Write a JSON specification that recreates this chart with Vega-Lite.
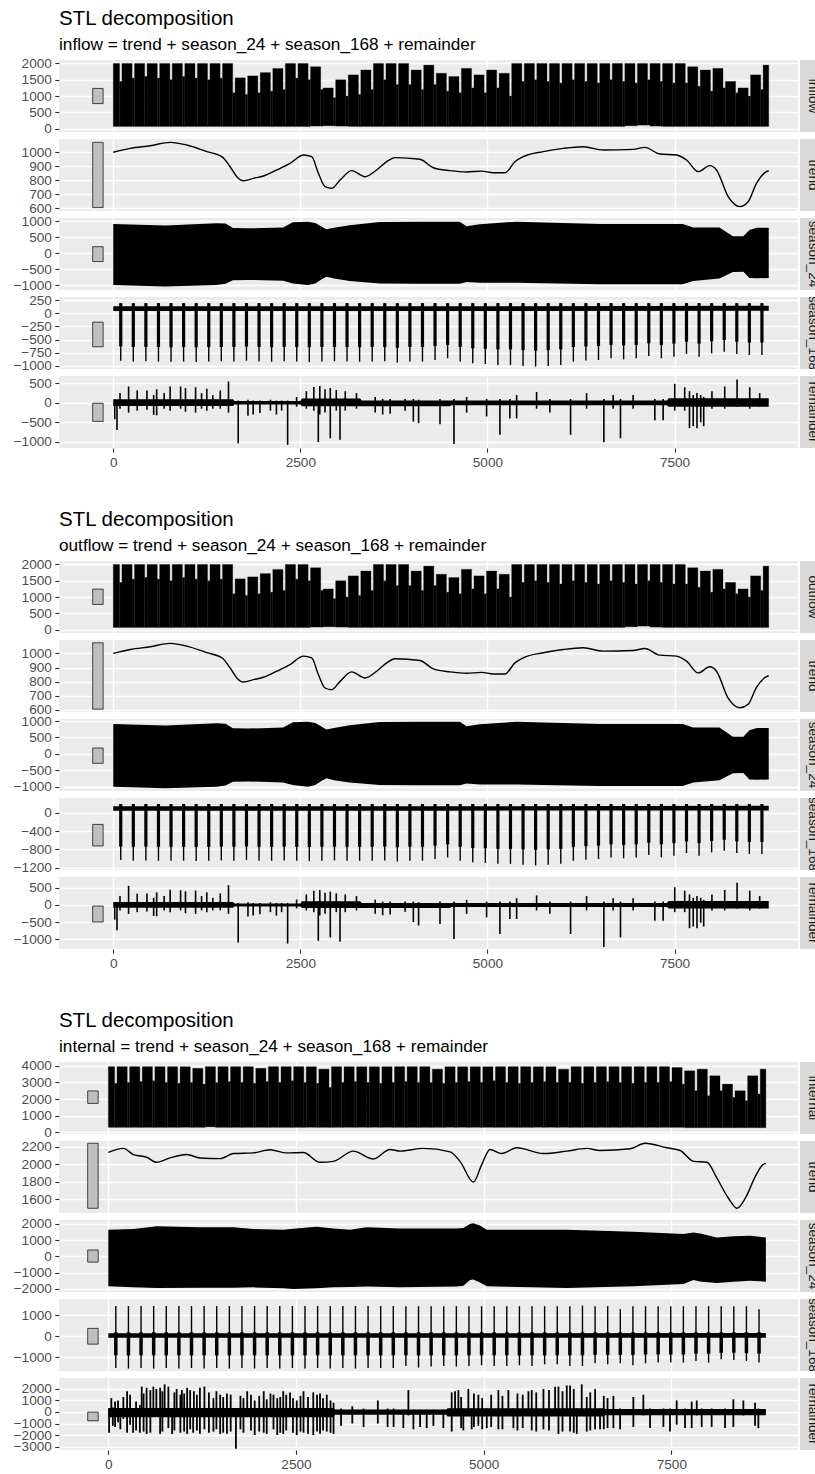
{
"$schema":"https://vega.github.io/schema/vega-lite/v6.json",
"background":"#FFFFFF",
"padding":{"left":13,"top":8,"right":0,"bottom":0},
"autosize":{"type":"pad"},
"config":{
 "font":"Liberation Sans",
 "numberFormat":"d",
 "view":{"fill":"#EBEBEB","stroke":null},
 "axis":{"domain":false,"grid":true,"gridColor":"#FFFFFF","gridWidth":1.4,"tickColor":"#333333","tickSize":4.25,"tickWidth":1.1,"labelColor":"#4D4D4D","labelFont":"Liberation Sans","labelFontSize":13.6,"labelPadding":3.4,"labelOverlap":false,"labelFlush":false},
 "title":{"anchor":"start","frame":"group","font":"Liberation Sans","fontSize":20.5,"fontWeight":"normal","color":"#000000","subtitleFont":"Liberation Sans","subtitleFontSize":17.2,"subtitleColor":"#000000","subtitlePadding":7,"offset":0.5}
},
"datasets":{
"blk":[
{"a":0,"b":84,"ih":2000,"xh":3950,"lo":70,"xl":300},
{"a":116,"b":252,"ih":2000,"xh":3950,"lo":70,"xl":300},
{"a":284,"b":420,"ih":2000,"xh":3950,"lo":70,"xl":300},
{"a":452,"b":588,"ih":2000,"xh":3950,"lo":70,"xl":300},
{"a":620,"b":756,"ih":2000,"xh":3950,"lo":70,"xl":300},
{"a":788,"b":924,"ih":2000,"xh":3950,"lo":70,"xl":300},
{"a":956,"b":1092,"ih":2000,"xh":3950,"lo":70,"xl":300},
{"a":1124,"b":1260,"ih":2000,"xh":3850,"lo":70,"xl":300},
{"a":1292,"b":1428,"ih":2000,"xh":3950,"lo":70,"xl":330},
{"a":1460,"b":1596,"ih":2000,"xh":3950,"lo":70,"xl":300},
{"a":1628,"b":1764,"ih":1560,"xh":3950,"lo":70,"xl":300},
{"a":1796,"b":1932,"ih":1620,"xh":3950,"lo":70,"xl":300},
{"a":1964,"b":2100,"ih":1720,"xh":3850,"lo":70,"xl":300},
{"a":2132,"b":2268,"ih":1850,"xh":3950,"lo":70,"xl":300},
{"a":2300,"b":2436,"ih":2000,"xh":3950,"lo":70,"xl":300},
{"a":2468,"b":2604,"ih":2000,"xh":3950,"lo":70,"xl":300},
{"a":2636,"b":2772,"ih":1900,"xh":3950,"lo":80,"xl":300},
{"a":2804,"b":2940,"ih":1250,"xh":3800,"lo":90,"xl":300},
{"a":2972,"b":3108,"ih":1500,"xh":3950,"lo":80,"xl":300},
{"a":3140,"b":3276,"ih":1650,"xh":3950,"lo":70,"xl":300},
{"a":3308,"b":3444,"ih":1800,"xh":3950,"lo":70,"xl":300},
{"a":3476,"b":3612,"ih":2000,"xh":3950,"lo":70,"xl":300},
{"a":3644,"b":3780,"ih":2000,"xh":3950,"lo":70,"xl":300},
{"a":3812,"b":3948,"ih":2000,"xh":3950,"lo":70,"xl":300},
{"a":3980,"b":4116,"ih":1800,"xh":3950,"lo":70,"xl":300},
{"a":4148,"b":4284,"ih":1950,"xh":3950,"lo":70,"xl":300},
{"a":4316,"b":4452,"ih":1700,"xh":3800,"lo":70,"xl":300},
{"a":4484,"b":4620,"ih":1600,"xh":3950,"lo":70,"xl":300},
{"a":4652,"b":4788,"ih":1850,"xh":3950,"lo":70,"xl":300},
{"a":4820,"b":4956,"ih":1650,"xh":3950,"lo":70,"xl":300},
{"a":4988,"b":5124,"ih":1800,"xh":3950,"lo":70,"xl":300},
{"a":5156,"b":5292,"ih":1700,"xh":3950,"lo":70,"xl":300},
{"a":5324,"b":5460,"ih":2000,"xh":3950,"lo":70,"xl":300},
{"a":5492,"b":5628,"ih":2000,"xh":3950,"lo":70,"xl":300},
{"a":5660,"b":5796,"ih":2000,"xh":3950,"lo":70,"xl":300},
{"a":5828,"b":5964,"ih":2000,"xh":3950,"lo":70,"xl":300},
{"a":5996,"b":6132,"ih":2000,"xh":3800,"lo":70,"xl":300},
{"a":6164,"b":6300,"ih":2000,"xh":3950,"lo":70,"xl":300},
{"a":6332,"b":6468,"ih":2000,"xh":3950,"lo":70,"xl":300},
{"a":6500,"b":6636,"ih":2000,"xh":3950,"lo":70,"xl":300},
{"a":6668,"b":6804,"ih":2000,"xh":3950,"lo":70,"xl":300},
{"a":6836,"b":6972,"ih":2000,"xh":3950,"lo":90,"xl":300},
{"a":7004,"b":7140,"ih":2000,"xh":3950,"lo":110,"xl":300},
{"a":7172,"b":7308,"ih":2000,"xh":3950,"lo":80,"xl":300},
{"a":7340,"b":7476,"ih":2000,"xh":3950,"lo":70,"xl":300},
{"a":7508,"b":7644,"ih":2000,"xh":3900,"lo":70,"xl":300},
{"a":7676,"b":7812,"ih":1900,"xh":3700,"lo":70,"xl":280},
{"a":7844,"b":7980,"ih":1800,"xh":3800,"lo":70,"xl":280},
{"a":8012,"b":8148,"ih":1850,"xh":3400,"lo":70,"xl":280},
{"a":8180,"b":8316,"ih":1450,"xh":2900,"lo":70,"xl":280},
{"a":8348,"b":8484,"ih":1250,"xh":2500,"lo":70,"xl":280},
{"a":8516,"b":8652,"ih":1650,"xh":3400,"lo":70,"xl":280},
{"a":8684,"b":8759,"ih":1950,"xh":3800,"lo":70,"xl":280}
],
"nt":[
{"c":100,"p":84,"q":116,"iw":1450,"xw":2950,"lo":70,"xl":300,"ip":190,"im":-900,"it":-630,"om":-1030,"ot":-740,"xp":1430,"xm":-1500,"xt":-900},
{"c":268,"p":252,"q":284,"iw":1550,"xw":3000,"lo":70,"xl":300,"ip":190,"im":-917,"it":-640,"om":-1047,"ot":-745,"xp":1430,"xm":-1525,"xt":-900},
{"c":436,"p":420,"q":452,"iw":1600,"xw":3050,"lo":70,"xl":300,"ip":190,"im":-910,"it":-640,"om":-1040,"ot":-740,"xp":1430,"xm":-1500,"xt":-900},
{"c":604,"p":588,"q":620,"iw":1550,"xw":3100,"lo":70,"xl":300,"ip":190,"im":-917,"it":-640,"om":-1047,"ot":-745,"xp":1430,"xm":-1525,"xt":-900},
{"c":772,"p":756,"q":788,"iw":1500,"xw":3000,"lo":70,"xl":300,"ip":190,"im":-920,"it":-645,"om":-1050,"ot":-745,"xp":1430,"xm":-1500,"xt":-900},
{"c":940,"p":924,"q":956,"iw":1600,"xw":2950,"lo":70,"xl":300,"ip":190,"im":-917,"it":-640,"om":-1047,"ot":-745,"xp":1430,"xm":-1525,"xt":-900},
{"c":1108,"p":1092,"q":1124,"iw":1550,"xw":3000,"lo":70,"xl":300,"ip":190,"im":-925,"it":-645,"om":-1055,"ot":-750,"xp":1430,"xm":-1500,"xt":-900},
{"c":1276,"p":1260,"q":1292,"iw":1500,"xw":2900,"lo":70,"xl":300,"ip":190,"im":-917,"it":-640,"om":-1047,"ot":-745,"xp":1430,"xm":-1525,"xt":-900},
{"c":1444,"p":1428,"q":1460,"iw":1550,"xw":3000,"lo":70,"xl":300,"ip":190,"im":-910,"it":-640,"om":-1040,"ot":-740,"xp":1430,"xm":-1500,"xt":-900},
{"c":1612,"p":1596,"q":1628,"iw":1100,"xw":3050,"lo":70,"xl":300,"ip":190,"im":-917,"it":-640,"om":-1047,"ot":-745,"xp":1430,"xm":-1525,"xt":-900},
{"c":1780,"p":1764,"q":1796,"iw":1050,"xw":3000,"lo":70,"xl":300,"ip":190,"im":-900,"it":-630,"om":-1030,"ot":-735,"xp":1430,"xm":-1500,"xt":-900},
{"c":1948,"p":1932,"q":1964,"iw":1100,"xw":2950,"lo":70,"xl":300,"ip":190,"im":-917,"it":-640,"om":-1047,"ot":-745,"xp":1430,"xm":-1525,"xt":-900},
{"c":2116,"p":2100,"q":2132,"iw":1150,"xw":3050,"lo":70,"xl":300,"ip":190,"im":-920,"it":-645,"om":-1050,"ot":-745,"xp":1430,"xm":-1500,"xt":-900},
{"c":2284,"p":2268,"q":2300,"iw":1200,"xw":3000,"lo":70,"xl":300,"ip":190,"im":-910,"it":-640,"om":-1040,"ot":-740,"xp":1430,"xm":-1525,"xt":-900},
{"c":2452,"p":2436,"q":2468,"iw":1550,"xw":3100,"lo":70,"xl":300,"ip":190,"im":-917,"it":-640,"om":-1047,"ot":-745,"xp":1430,"xm":-1500,"xt":-900},
{"c":2620,"p":2604,"q":2636,"iw":1500,"xw":3000,"lo":70,"xl":300,"ip":190,"im":-925,"it":-645,"om":-1055,"ot":-750,"xp":1430,"xm":-1525,"xt":-900},
{"c":2788,"p":2772,"q":2804,"iw":1200,"xw":2950,"lo":80,"xl":300,"ip":190,"im":-917,"it":-640,"om":-1047,"ot":-745,"xp":1430,"xm":-1500,"xt":-900},
{"c":2956,"p":2940,"q":2972,"iw":950,"xw":2700,"lo":90,"xl":300,"ip":190,"im":-910,"it":-640,"om":-1040,"ot":-740,"xp":1430,"xm":-1525,"xt":-900},
{"c":3124,"p":3108,"q":3140,"iw":1000,"xw":3000,"lo":80,"xl":300,"ip":190,"im":-917,"it":-640,"om":-1047,"ot":-745,"xp":1430,"xm":-1500,"xt":-900},
{"c":3292,"p":3276,"q":3308,"iw":1050,"xw":3050,"lo":70,"xl":300,"ip":190,"im":-920,"it":-645,"om":-1050,"ot":-745,"xp":1430,"xm":-1525,"xt":-900},
{"c":3460,"p":3444,"q":3476,"iw":1200,"xw":3000,"lo":70,"xl":300,"ip":190,"im":-917,"it":-640,"om":-1047,"ot":-745,"xp":1430,"xm":-1500,"xt":-900},
{"c":3628,"p":3612,"q":3644,"iw":1500,"xw":2950,"lo":70,"xl":300,"ip":190,"im":-910,"it":-640,"om":-1040,"ot":-740,"xp":1430,"xm":-1500,"xt":-900},
{"c":3796,"p":3780,"q":3812,"iw":1350,"xw":3000,"lo":70,"xl":300,"ip":190,"im":-935,"it":-655,"om":-1065,"ot":-755,"xp":1430,"xm":-1500,"xt":-900},
{"c":3964,"p":3948,"q":3980,"iw":1350,"xw":3050,"lo":70,"xl":300,"ip":190,"im":-917,"it":-640,"om":-1047,"ot":-745,"xp":1420,"xm":-1399,"xt":-900},
{"c":4132,"p":4116,"q":4148,"iw":1200,"xw":3000,"lo":70,"xl":300,"ip":190,"im":-917,"it":-640,"om":-1047,"ot":-745,"xp":1420,"xm":-1478,"xt":-900},
{"c":4300,"p":4284,"q":4316,"iw":1350,"xw":3000,"lo":70,"xl":300,"ip":190,"im":-886,"it":-620,"om":-1010,"ot":-720,"xp":1420,"xm":-1431,"xt":-900},
{"c":4468,"p":4452,"q":4484,"iw":1150,"xw":2950,"lo":70,"xl":300,"ip":190,"im":-854,"it":-600,"om":-975,"ot":-690,"xp":1420,"xm":-1399,"xt":-900},
{"c":4636,"p":4620,"q":4652,"iw":1100,"xw":3000,"lo":70,"xl":300,"ip":190,"im":-917,"it":-640,"om":-1047,"ot":-745,"xp":1420,"xm":-1431,"xt":-900},
{"c":4804,"p":4788,"q":4820,"iw":1250,"xw":3050,"lo":70,"xl":300,"ip":190,"im":-949,"it":-665,"om":-1080,"ot":-770,"xp":1420,"xm":-1399,"xt":-900},
{"c":4972,"p":4956,"q":4988,"iw":1100,"xw":3000,"lo":70,"xl":300,"ip":190,"im":-961,"it":-675,"om":-1095,"ot":-780,"xp":1420,"xm":-1368,"xt":-900},
{"c":5140,"p":5124,"q":5156,"iw":1250,"xw":3100,"lo":70,"xl":300,"ip":190,"im":-980,"it":-685,"om":-1115,"ot":-790,"xp":1420,"xm":-1399,"xt":-900},
{"c":5308,"p":5292,"q":5324,"iw":1000,"xw":3000,"lo":70,"xl":300,"ip":190,"im":-980,"it":-685,"om":-1115,"ot":-790,"xp":1420,"xm":-1399,"xt":-900},
{"c":5476,"p":5460,"q":5492,"iw":1450,"xw":2950,"lo":70,"xl":300,"ip":190,"im":-999,"it":-700,"om":-1135,"ot":-800,"xp":1420,"xm":-1368,"xt":-900},
{"c":5644,"p":5628,"q":5660,"iw":1500,"xw":3000,"lo":70,"xl":300,"ip":190,"im":-1012,"it":-710,"om":-1150,"ot":-810,"xp":1420,"xm":-1399,"xt":-900},
{"c":5812,"p":5796,"q":5828,"iw":1450,"xw":3050,"lo":70,"xl":300,"ip":190,"im":-999,"it":-700,"om":-1135,"ot":-800,"xp":1420,"xm":-1321,"xt":-900},
{"c":5980,"p":5964,"q":5996,"iw":1400,"xw":3000,"lo":70,"xl":300,"ip":190,"im":-980,"it":-685,"om":-1115,"ot":-790,"xp":1420,"xm":-1321,"xt":-900},
{"c":6148,"p":6132,"q":6164,"iw":1500,"xw":3000,"lo":70,"xl":300,"ip":190,"im":-917,"it":-640,"om":-1047,"ot":-745,"xp":1420,"xm":-1399,"xt":-900},
{"c":6316,"p":6300,"q":6332,"iw":1450,"xw":2950,"lo":70,"xl":300,"ip":190,"im":-898,"it":-630,"om":-1025,"ot":-730,"xp":1450,"xm":-1399,"xt":-900},
{"c":6484,"p":6468,"q":6500,"iw":1400,"xw":3000,"lo":70,"xl":300,"ip":190,"im":-886,"it":-620,"om":-1010,"ot":-720,"xp":1420,"xm":-1274,"xt":-880},
{"c":6652,"p":6636,"q":6668,"iw":1500,"xw":3050,"lo":70,"xl":300,"ip":190,"im":-854,"it":-600,"om":-975,"ot":-690,"xp":1420,"xm":-1321,"xt":-880},
{"c":6820,"p":6804,"q":6836,"iw":1450,"xw":3000,"lo":70,"xl":300,"ip":190,"im":-873,"it":-610,"om":-995,"ot":-705,"xp":1280,"xm":-1274,"xt":-880},
{"c":6988,"p":6972,"q":7004,"iw":1400,"xw":2950,"lo":90,"xl":300,"ip":190,"im":-854,"it":-600,"om":-975,"ot":-690,"xp":1420,"xm":-1368,"xt":-880},
{"c":7156,"p":7140,"q":7172,"iw":1500,"xw":3000,"lo":110,"xl":300,"ip":190,"im":-810,"it":-570,"om":-925,"ot":-655,"xp":1420,"xm":-1274,"xt":-860},
{"c":7324,"p":7308,"q":7340,"iw":1450,"xw":3000,"lo":80,"xl":300,"ip":190,"im":-854,"it":-600,"om":-975,"ot":-690,"xp":1420,"xm":-1242,"xt":-860},
{"c":7492,"p":7476,"q":7508,"iw":1400,"xw":3050,"lo":70,"xl":300,"ip":190,"im":-823,"it":-575,"om":-940,"ot":-665,"xp":1420,"xm":-1242,"xt":-860},
{"c":7660,"p":7644,"q":7676,"iw":1400,"xw":2900,"lo":70,"xl":300,"ip":190,"im":-772,"it":-540,"om":-880,"ot":-625,"xp":1420,"xm":-1242,"xt":-860},
{"c":7828,"p":7812,"q":7844,"iw":1300,"xw":2500,"lo":70,"xl":280,"ip":190,"im":-823,"it":-575,"om":-940,"ot":-665,"xp":1420,"xm":-1164,"xt":-820},
{"c":7996,"p":7980,"q":8012,"iw":1150,"xw":2200,"lo":70,"xl":280,"ip":190,"im":-760,"it":-530,"om":-865,"ot":-615,"xp":1420,"xm":-1242,"xt":-820},
{"c":8164,"p":8148,"q":8180,"iw":1250,"xw":2500,"lo":70,"xl":280,"ip":190,"im":-728,"it":-510,"om":-830,"ot":-590,"xp":1420,"xm":-1085,"xt":-780},
{"c":8332,"p":8316,"q":8348,"iw":1100,"xw":2100,"lo":70,"xl":280,"ip":190,"im":-772,"it":-540,"om":-880,"ot":-625,"xp":1420,"xm":-1117,"xt":-780},
{"c":8500,"p":8484,"q":8516,"iw":1000,"xw":1900,"lo":70,"xl":280,"ip":190,"im":-791,"it":-555,"om":-900,"ot":-640,"xp":1420,"xm":-1164,"xt":-800},
{"c":8668,"p":8652,"q":8684,"iw":1200,"xw":2300,"lo":70,"xl":280,"ip":190,"im":-791,"it":-555,"om":-900,"ot":-640,"xp":1280,"xm":-1242,"xt":-820}
],
"tri":[
{"t":0,"i":1000,"o":1000},{"t":227,"i":1028,"o":1028},{"t":494,"i":1047,"o":1047},{"t":761,"i":1071,"o":1071},{"t":983,"i":1052,"o":1052},{"t":1250,"i":1005,"o":1005},{"t":1451,"i":969,"o":969},{"t":1562,"i":897,"o":897},{"t":1651,"i":826,"o":826},{"t":1740,"i":797,"o":797},{"t":1874,"i":814,"o":814},{"t":2007,"i":831,"o":831},{"t":2185,"i":874,"o":874},{"t":2363,"i":921,"o":921},{"t":2541,"i":981,"o":981},{"t":2652,"i":969,"o":969},{"t":2741,"i":850,"o":850},{"t":2830,"i":755,"o":755},{"t":2919,"i":743,"o":743},{"t":3031,"i":802,"o":802},{"t":3186,"i":869,"o":869},{"t":3364,"i":826,"o":826},{"t":3520,"i":874,"o":874},{"t":3654,"i":933,"o":933},{"t":3765,"i":962,"o":962},{"t":4099,"i":950,"o":950},{"t":4277,"i":890,"o":890},{"t":4499,"i":869,"o":869},{"t":4722,"i":859,"o":859},{"t":4922,"i":866,"o":866},{"t":5078,"i":854,"o":854},{"t":5234,"i":854,"o":854},{"t":5367,"i":933,"o":933},{"t":5479,"i":969,"o":969},{"t":5746,"i":1005,"o":1005},{"t":6013,"i":1028,"o":1028},{"t":6280,"i":1040,"o":1040},{"t":6547,"i":1016,"o":1016},{"t":6947,"i":1021,"o":1021},{"t":7103,"i":1035,"o":1035},{"t":7303,"i":988,"o":988},{"t":7526,"i":981,"o":981},{"t":7660,"i":945,"o":945},{"t":7816,"i":862,"o":862},{"t":7972,"i":905,"o":905},{"t":8061,"i":874,"o":874},{"t":8217,"i":683,"o":683},{"t":8373,"i":612,"o":615},{"t":8484,"i":647,"o":640},{"t":8595,"i":778,"o":760},{"t":8728,"i":862,"o":835},{"t":8759,"i":868,"o":842}
],
"trx":[
{"t":0,"v":2135},{"t":200,"v":2182},{"t":333,"v":2111},{"t":511,"v":2080},{"t":644,"v":2022},{"t":821,"v":2072},{"t":1044,"v":2111},{"t":1221,"v":2072},{"t":1488,"v":2064},{"t":1665,"v":2122},{"t":1932,"v":2130},{"t":2154,"v":2165},{"t":2376,"v":2130},{"t":2598,"v":2134},{"t":2820,"v":2022},{"t":2997,"v":2033},{"t":3264,"v":2150},{"t":3530,"v":2060},{"t":3752,"v":2169},{"t":3886,"v":2150},{"t":4197,"v":2181},{"t":4552,"v":2142},{"t":4685,"v":2033},{"t":4863,"v":1795},{"t":4974,"v":1995},{"t":5085,"v":2169},{"t":5241,"v":2122},{"t":5441,"v":2188},{"t":5796,"v":2122},{"t":6107,"v":2150},{"t":6374,"v":2181},{"t":6551,"v":2157},{"t":6951,"v":2177},{"t":7151,"v":2240},{"t":7440,"v":2188},{"t":7618,"v":2157},{"t":7796,"v":2033},{"t":7974,"v":2022},{"t":8107,"v":1840},{"t":8263,"v":1607},{"t":8374,"v":1495},{"t":8507,"v":1646},{"t":8596,"v":1820},{"t":8720,"v":1995},{"t":8759,"v":2010}
],
"s24":[
{"t":0,"u":910,"d":-1000},{"t":700,"u":860,"d":-1050},{"t":1380,"u":930,"d":-1000},{"t":1500,"u":920,"d":-960},{"t":1600,"u":780,"d":-850},{"t":1800,"u":770,"d":-840},{"t":2270,"u":800,"d":-870},{"t":2400,"u":960,"d":-950},{"t":2600,"u":980,"d":-1000},{"t":2700,"u":940,"d":-950},{"t":2780,"u":830,"d":-830},{"t":2850,"u":740,"d":-740},{"t":2950,"u":790,"d":-800},{"t":3160,"u":870,"d":-875},{"t":3560,"u":970,"d":-950},{"t":4100,"u":980,"d":-958},{"t":4630,"u":980,"d":-958},{"t":4720,"u":840,"d":-906},{"t":4900,"u":900,"d":-930},{"t":5390,"u":980,"d":-930},{"t":6500,"u":910,"d":-979},{"t":7610,"u":910,"d":-979},{"t":7750,"u":800,"d":-875},{"t":8100,"u":800,"d":-800},{"t":8280,"u":520,"d":-590},{"t":8420,"u":520,"d":-583},{"t":8500,"u":720,"d":-780},{"t":8600,"u":790,"d":-790},{"t":8759,"u":790,"d":-780}
],
"s24x":[
{"t":0,"u":1650,"d":-1835},{"t":333,"u":1690,"d":-1900},{"t":644,"u":1855,"d":-1938},{"t":1221,"u":1800,"d":-1920},{"t":1665,"u":1800,"d":-1918},{"t":1932,"u":1690,"d":-1900},{"t":2331,"u":1650,"d":-1950},{"t":2464,"u":1700,"d":-2000},{"t":2775,"u":1835,"d":-1950},{"t":2997,"u":1730,"d":-1897},{"t":3219,"u":1650,"d":-1870},{"t":3441,"u":1800,"d":-1850},{"t":3886,"u":1730,"d":-1897},{"t":4640,"u":1730,"d":-1850},{"t":4729,"u":1750,"d":-1795},{"t":4818,"u":1995,"d":-1446},{"t":4862,"u":2040,"d":-1420},{"t":4950,"u":1900,"d":-1600},{"t":5041,"u":1650,"d":-1835},{"t":6107,"u":1650,"d":-1938},{"t":6994,"u":1520,"d":-1835},{"t":7660,"u":1380,"d":-1692},{"t":7793,"u":1480,"d":-1446},{"t":7900,"u":1400,"d":-1550},{"t":8104,"u":1170,"d":-1630},{"t":8330,"u":1250,"d":-1550},{"t":8548,"u":1270,"d":-1487},{"t":8759,"u":1170,"d":-1548}
],
"sb":[
{"t":0,"ia":40,"ib":130,"oa":45,"ob":140,"xa":-70,"xb":140},{"t":4400,"ia":40,"ib":130,"oa":45,"ob":140,"xa":-70,"xb":140},{"t":8759,"ia":45,"ib":140,"oa":50,"ob":150,"xa":-70,"xb":150}
],
"rb":[
{"t":0,"il":-80,"ih":90,"xl":-450,"xh":350},{"t":1600,"il":-80,"ih":90,"xl":-450,"xh":350},{"t":1620,"il":-45,"ih":45,"xl":-450,"xh":350},{"t":2500,"il":-45,"ih":45,"xl":-450,"xh":350},{"t":2520,"il":-90,"ih":110,"xl":-450,"xh":350},{"t":3000,"il":-90,"ih":110,"xl":-450,"xh":350},{"t":3020,"il":-90,"ih":110,"xl":-250,"xh":220},{"t":3300,"il":-90,"ih":110,"xl":-250,"xh":220},{"t":3320,"il":-90,"ih":60,"xl":-250,"xh":220},{"t":4500,"il":-90,"ih":60,"xl":-250,"xh":220},{"t":4520,"il":-60,"ih":60,"xl":-400,"xh":320},{"t":6600,"il":-60,"ih":60,"xl":-400,"xh":320},{"t":6620,"il":-60,"ih":60,"xl":-280,"xh":250},{"t":7400,"il":-60,"ih":60,"xl":-280,"xh":250},{"t":7420,"il":-100,"ih":120,"xl":-280,"xh":250},{"t":8759,"il":-100,"ih":120,"xl":-280,"xh":250}
],
"rio":[
{"t":20,"il":-420,"ih":80,"ol":-430,"oh":80},{"t":50,"il":-700,"ih":50,"ol":-740,"oh":60},{"t":90,"il":-150,"ih":250,"ol":-160,"oh":260},{"t":205,"il":-250,"ih":420,"ol":-260,"oh":560},{"t":320,"il":-200,"ih":320,"ol":-210,"oh":330},{"t":450,"il":-180,"ih":320,"ol":-190,"oh":340},{"t":540,"il":-310,"ih":200,"ol":-320,"oh":210},{"t":580,"il":-320,"ih":350,"ol":-330,"oh":370},{"t":680,"il":-150,"ih":250,"ol":-160,"oh":260},{"t":760,"il":-200,"ih":420,"ol":-210,"oh":450},{"t":900,"il":-150,"ih":420,"ol":-160,"oh":430},{"t":965,"il":-230,"ih":380,"ol":-240,"oh":400},{"t":1100,"il":-250,"ih":400,"ol":-260,"oh":420},{"t":1180,"il":-150,"ih":250,"ol":-160,"oh":260},{"t":1250,"il":-200,"ih":360,"ol":-210,"oh":370},{"t":1330,"il":-150,"ih":200,"ol":-160,"oh":210},{"t":1430,"il":-150,"ih":320,"ol":-160,"oh":340},{"t":1540,"il":-250,"ih":550,"ol":-260,"oh":580},{"t":1670,"il":-1040,"ih":60,"ol":-1100,"oh":60},{"t":1800,"il":-330,"ih":80,"ol":-340,"oh":80},{"t":1870,"il":-300,"ih":60,"ol":-310,"oh":60},{"t":1960,"il":-260,"ih":60,"ol":-270,"oh":60},{"t":2100,"il":-200,"ih":80,"ol":-210,"oh":80},{"t":2180,"il":-300,"ih":60,"ol":-310,"oh":60},{"t":2250,"il":-200,"ih":60,"ol":-210,"oh":60},{"t":2330,"il":-1080,"ih":60,"ol":-1130,"oh":60},{"t":2450,"il":-100,"ih":150,"ol":-100,"oh":160},{"t":2580,"il":-150,"ih":300,"ol":-160,"oh":310},{"t":2680,"il":-200,"ih":410,"ol":-210,"oh":420},{"t":2740,"il":-1010,"ih":100,"ol":-1050,"oh":100},{"t":2760,"il":-300,"ih":430,"ol":-310,"oh":440},{"t":2830,"il":-250,"ih":350,"ol":-260,"oh":360},{"t":2900,"il":-910,"ih":380,"ol":-950,"oh":390},{"t":2980,"il":-200,"ih":330,"ol":-210,"oh":340},{"t":3030,"il":-950,"ih":100,"ol":-1080,"oh":100},{"t":3100,"il":-200,"ih":300,"ol":-210,"oh":310},{"t":3250,"il":-150,"ih":250,"ol":-160,"oh":260},{"t":3500,"il":-250,"ih":150,"ol":-260,"oh":150},{"t":3600,"il":-300,"ih":100,"ol":-300,"oh":100},{"t":3700,"il":-280,"ih":100,"ol":-280,"oh":100},{"t":3900,"il":-200,"ih":100,"ol":-200,"oh":100},{"t":4010,"il":-480,"ih":100,"ol":-500,"oh":100},{"t":4080,"il":-520,"ih":80,"ol":-600,"oh":80},{"t":4366,"il":-550,"ih":100,"ol":-560,"oh":100},{"t":4553,"il":-1060,"ih":100,"ol":-1000,"oh":100},{"t":4722,"il":-250,"ih":150,"ol":-260,"oh":150},{"t":4989,"il":-350,"ih":100,"ol":-360,"oh":100},{"t":5167,"il":-820,"ih":100,"ol":-850,"oh":100},{"t":5300,"il":-400,"ih":100,"ol":-410,"oh":100},{"t":5390,"il":-400,"ih":200,"ol":-410,"oh":200},{"t":5657,"il":-150,"ih":280,"ol":-160,"oh":280},{"t":5834,"il":-250,"ih":100,"ol":-260,"oh":100},{"t":6111,"il":-820,"ih":100,"ol":-850,"oh":100},{"t":6325,"il":-150,"ih":250,"ol":-160,"oh":260},{"t":6556,"il":-1010,"ih":100,"ol":-1230,"oh":100},{"t":6680,"il":-150,"ih":200,"ol":-160,"oh":200},{"t":6778,"il":-910,"ih":100,"ol":-950,"oh":100},{"t":6947,"il":-150,"ih":200,"ol":-160,"oh":200},{"t":7237,"il":-450,"ih":100,"ol":-460,"oh":100},{"t":7348,"il":-450,"ih":100,"ol":-460,"oh":100},{"t":7503,"il":-200,"ih":490,"ol":-210,"oh":520},{"t":7636,"il":-200,"ih":400,"ol":-210,"oh":420},{"t":7700,"il":-650,"ih":300,"ol":-680,"oh":310},{"t":7750,"il":-600,"ih":200,"ol":-630,"oh":210},{"t":7800,"il":-650,"ih":250,"ol":-680,"oh":260},{"t":7850,"il":-500,"ih":200,"ol":-520,"oh":210},{"t":7890,"il":-600,"ih":150,"ol":-630,"oh":150},{"t":8000,"il":-150,"ih":300,"ol":-160,"oh":310},{"t":8171,"il":-150,"ih":420,"ol":-160,"oh":440},{"t":8336,"il":-100,"ih":600,"ol":-110,"oh":650},{"t":8505,"il":-150,"ih":400,"ol":-160,"oh":420},{"t":8638,"il":-100,"ih":250,"ol":-110,"oh":260}
],
"rx":[
{"t":10,"lo":-1800,"hi":300},{"t":40,"lo":-300,"hi":1200},{"t":60,"lo":-1200,"hi":400},{"t":90,"lo":-1300,"hi":900},{"t":130,"lo":-900,"hi":1000},{"t":160,"lo":-1500,"hi":300},{"t":200,"lo":-600,"hi":1300},{"t":250,"lo":-1800,"hi":1800},{"t":290,"lo":-1100,"hi":1500},{"t":330,"lo":-1800,"hi":300},{"t":370,"lo":-1600,"hi":900},{"t":420,"lo":-1800,"hi":600},{"t":445,"lo":-300,"hi":2200},{"t":470,"lo":-1700,"hi":1600},{"t":510,"lo":-1900,"hi":2100},{"t":560,"lo":-1800,"hi":1900},{"t":600,"lo":-300,"hi":2200},{"t":640,"lo":-400,"hi":2000},{"t":690,"lo":-1900,"hi":2100},{"t":720,"lo":-1700,"hi":1800},{"t":750,"lo":-300,"hi":2400},{"t":800,"lo":-1400,"hi":2200},{"t":850,"lo":-1900,"hi":300},{"t":880,"lo":-1600,"hi":1700},{"t":910,"lo":-300,"hi":2000},{"t":960,"lo":-1800,"hi":1500},{"t":980,"lo":-300,"hi":1900},{"t":1010,"lo":-1700,"hi":1600},{"t":1050,"lo":-1900,"hi":2100},{"t":1090,"lo":-1500,"hi":1900},{"t":1130,"lo":-1800,"hi":300},{"t":1140,"lo":-300,"hi":1800},{"t":1180,"lo":-1600,"hi":1500},{"t":1220,"lo":-1900,"hi":2100},{"t":1280,"lo":-1500,"hi":2200},{"t":1340,"lo":-1800,"hi":1700},{"t":1400,"lo":-1700,"hi":1200},{"t":1440,"lo":-1500,"hi":1800},{"t":1490,"lo":-1900,"hi":1500},{"t":1530,"lo":-1800,"hi":1300},{"t":1580,"lo":-1900,"hi":1600},{"t":1630,"lo":-1700,"hi":1500},{"t":1700,"lo":-3200,"hi":300},{"t":1760,"lo":-1500,"hi":1400},{"t":1800,"lo":-1800,"hi":1200},{"t":1850,"lo":-300,"hi":1800},{"t":1900,"lo":-1600,"hi":1500},{"t":1950,"lo":-2000,"hi":1000},{"t":2010,"lo":-1700,"hi":1400},{"t":2070,"lo":-1800,"hi":1800},{"t":2110,"lo":-1900,"hi":1100},{"t":2160,"lo":-300,"hi":1600},{"t":2200,"lo":-1500,"hi":1500},{"t":2250,"lo":-2000,"hi":1200},{"t":2290,"lo":-1800,"hi":1300},{"t":2330,"lo":-1900,"hi":1800},{"t":2370,"lo":-1600,"hi":1500},{"t":2420,"lo":-300,"hi":1700},{"t":2460,"lo":-1800,"hi":1200},{"t":2510,"lo":-2000,"hi":1000},{"t":2560,"lo":-1700,"hi":1400},{"t":2600,"lo":-1800,"hi":1800},{"t":2660,"lo":-1900,"hi":1300},{"t":2730,"lo":-2000,"hi":1700},{"t":2780,"lo":-1700,"hi":1500},{"t":2820,"lo":-1900,"hi":1600},{"t":2860,"lo":-1600,"hi":1200},{"t":2910,"lo":-1700,"hi":1500},{"t":2960,"lo":-1800,"hi":1000},{"t":3000,"lo":-1900,"hi":800},{"t":3100,"lo":-1200,"hi":300},{"t":3250,"lo":-1000,"hi":500},{"t":3400,"lo":-1300,"hi":300},{"t":3590,"lo":-1000,"hi":1000},{"t":3720,"lo":-1300,"hi":300},{"t":3800,"lo":-1300,"hi":300},{"t":3930,"lo":-1400,"hi":200},{"t":3997,"lo":-300,"hi":1900},{"t":4064,"lo":-1500,"hi":200},{"t":4153,"lo":-1300,"hi":200},{"t":4241,"lo":-1400,"hi":200},{"t":4330,"lo":-1200,"hi":200},{"t":4463,"lo":-1400,"hi":200},{"t":4574,"lo":-1700,"hi":1700},{"t":4619,"lo":-300,"hi":1800},{"t":4663,"lo":-300,"hi":1900},{"t":4700,"lo":-1400,"hi":1300},{"t":4729,"lo":-1600,"hi":300},{"t":4796,"lo":-300,"hi":2000},{"t":4840,"lo":-1500,"hi":300},{"t":4870,"lo":-1300,"hi":1600},{"t":4929,"lo":-1200,"hi":1500},{"t":4980,"lo":-1500,"hi":1200},{"t":5041,"lo":-1400,"hi":300},{"t":5100,"lo":-1300,"hi":1500},{"t":5196,"lo":-1500,"hi":1900},{"t":5250,"lo":-1500,"hi":1400},{"t":5329,"lo":-300,"hi":1900},{"t":5396,"lo":-1400,"hi":300},{"t":5450,"lo":-1600,"hi":1600},{"t":5520,"lo":-1400,"hi":1500},{"t":5596,"lo":-300,"hi":1800},{"t":5640,"lo":-1600,"hi":1900},{"t":5700,"lo":-1700,"hi":1700},{"t":5796,"lo":-1500,"hi":2000},{"t":5870,"lo":-1600,"hi":1900},{"t":5951,"lo":-300,"hi":2200},{"t":5996,"lo":-1900,"hi":2200},{"t":6050,"lo":-1700,"hi":1800},{"t":6107,"lo":-300,"hi":2300},{"t":6151,"lo":-1700,"hi":2300},{"t":6200,"lo":-1800,"hi":2000},{"t":6240,"lo":-1900,"hi":300},{"t":6306,"lo":-300,"hi":2400},{"t":6373,"lo":-1700,"hi":1300},{"t":6420,"lo":-1600,"hi":1700},{"t":6484,"lo":-1500,"hi":2000},{"t":6550,"lo":-1500,"hi":300},{"t":6600,"lo":-1500,"hi":1400},{"t":6650,"lo":-1400,"hi":1200},{"t":6728,"lo":-1400,"hi":1400},{"t":6817,"lo":-1500,"hi":300},{"t":6994,"lo":-1300,"hi":1300},{"t":7127,"lo":-300,"hi":1500},{"t":7216,"lo":-1400,"hi":300},{"t":7394,"lo":-1300,"hi":300},{"t":7482,"lo":-1700,"hi":300},{"t":7571,"lo":-1100,"hi":1000},{"t":7682,"lo":-1400,"hi":300},{"t":7771,"lo":-1400,"hi":900},{"t":7838,"lo":-300,"hi":1000},{"t":7904,"lo":-1300,"hi":300},{"t":8037,"lo":-1300,"hi":300},{"t":8215,"lo":-1400,"hi":300},{"t":8326,"lo":-1300,"hi":1100},{"t":8459,"lo":-300,"hi":1000},{"t":8615,"lo":-1200,"hi":800},{"t":8659,"lo":-1400,"hi":300}
]
},
"vconcat":[
{"title":{"text":"STL decomposition","subtitle":"inflow = trend + season_24 + season_168 + remainder"},
 "spacing":-5,"bounds":"full",
 "vconcat":[
  {"hconcat":[
   {"width":739,"height":72,"resolve":{"axis":{"x":"independent","y":"independent"}},"layer":[
    {"data":{"values":[{"x0":-275,"x1":-135,"y0":770,"y1":1236}]},"mark":{"type":"rect","fill":"#BFBFBF","stroke":"#000000","strokeWidth":0.7},
     "encoding":{"x":{"field":"x0","type":"quantitative","scale":{"domain":[-725,9150],"nice":false,"zero":false},"axis":{"values":[0,2500,5000,7500],"labels":false,"ticks":false,"title":null}},"x2":{"field":"x1"},
      "y":{"field":"y0","type":"quantitative","scale":{"domain":[-101,2107],"nice":false,"zero":false},"axis":{"values":[0,500,1000,1500,2000],"title":null}},"y2":{"field":"y1"}}},
    {"data":{"name":"blk"},"mark":{"type":"rect","fill":"#000000","stroke":"#000000","strokeWidth":0.3},
     "encoding":{"x":{"field":"a","type":"quantitative","axis":{"values":[1250,3750,6250,8750],"labels":false,"ticks":false,"gridWidth":0.7,"orient":"bottom","title":null}},"x2":{"field":"b"},
      "y":{"field":"lo","type":"quantitative","axis":{"values":[250,750,1250,1750],"labels":false,"ticks":false,"gridWidth":0.7,"orient":"left","title":null}},"y2":{"field":"ih"}}},
    {"data":{"name":"nt"},"mark":{"type":"rect","fill":"#000000","stroke":"#000000","strokeWidth":0.3},
     "encoding":{"x":{"field":"p","type":"quantitative","axis":null},"x2":{"field":"q"},"y":{"field":"lo","type":"quantitative","axis":null},"y2":{"field":"iw"}}}
   ]},
   {"width":15,"height":72,"view":{"fill":"#D9D9D9","stroke":null},"data":{"values":[{"s":"inflow"}]},"mark":{"type":"text","angle":90,"fontSize":13.6,"color":"#1A1A1A","dy":-5,"clip":true},"encoding":{"text":{"field":"s"},"y":{"datum":0.5,"type":"quantitative","scale":{"domain":[0,1]},"axis":{"values":[0,1],"labelOpacity":0,"labelFontSize":12,"ticks":false,"grid":false,"title":null}}}}
  ],"spacing":2,"bounds":"flush"},
  {"hconcat":[
   {"width":739,"height":72,"resolve":{"axis":{"x":"independent","y":"independent"}},"layer":[
    {"data":{"values":[{"x0":-275,"x1":-135,"y0":605,"y1":1071}]},"mark":{"type":"rect","fill":"#BFBFBF","stroke":"#000000","strokeWidth":0.7},
     "encoding":{"x":{"field":"x0","type":"quantitative","scale":{"domain":[-725,9150],"nice":false,"zero":false},"axis":{"values":[0,2500,5000,7500],"labels":false,"ticks":false,"title":null}},"x2":{"field":"x1"},
      "y":{"field":"y0","type":"quantitative","scale":{"domain":[581,1095],"nice":false,"zero":false},"axis":{"values":[600,700,800,900,1000],"title":null}},"y2":{"field":"y1"}}},
    {"data":{"name":"tri"},"mark":{"type":"line","color":"#000000","strokeWidth":1.4,"interpolate":"monotone"},
     "encoding":{"x":{"field":"t","type":"quantitative","axis":{"values":[1250,3750,6250,8750],"labels":false,"ticks":false,"gridWidth":0.7,"orient":"bottom","title":null}},
      "y":{"field":"i","type":"quantitative","axis":{"values":[650,750,850,950,1050],"labels":false,"ticks":false,"gridWidth":0.7,"orient":"left","title":null}}}}
   ]},
   {"width":15,"height":72,"view":{"fill":"#D9D9D9","stroke":null},"data":{"values":[{"s":"trend"}]},"mark":{"type":"text","angle":90,"fontSize":13.6,"color":"#1A1A1A","dy":-5,"clip":true},"encoding":{"text":{"field":"s"},"y":{"datum":0.5,"type":"quantitative","scale":{"domain":[0,1]},"axis":{"values":[0,1],"labelOpacity":0,"labelFontSize":12,"ticks":false,"grid":false,"title":null}}}}
  ],"spacing":2,"bounds":"flush"},
  {"hconcat":[
   {"width":739,"height":72,"resolve":{"axis":{"x":"independent","y":"independent"}},"layer":[
    {"data":{"values":[{"x0":-275,"x1":-135,"y0":-268,"y1":198}]},"mark":{"type":"rect","fill":"#BFBFBF","stroke":"#000000","strokeWidth":0.7},
     "encoding":{"x":{"field":"x0","type":"quantitative","scale":{"domain":[-725,9150],"nice":false,"zero":false},"axis":{"values":[0,2500,5000,7500],"labels":false,"ticks":false,"title":null}},"x2":{"field":"x1"},
      "y":{"field":"y0","type":"quantitative","scale":{"domain":[-1156,1094],"nice":false,"zero":false},"axis":{"values":[-1000,-500,0,500,1000],"title":null}},"y2":{"field":"y1"}}},
    {"data":{"name":"s24"},"mark":{"type":"area","color":"#000000"},
     "encoding":{"x":{"field":"t","type":"quantitative","axis":{"values":[1250,3750,6250,8750],"labels":false,"ticks":false,"gridWidth":0.7,"orient":"bottom","title":null}},
      "y":{"field":"u","type":"quantitative","axis":{"values":[-750,-250,250,750],"labels":false,"ticks":false,"gridWidth":0.7,"orient":"left","title":null}},"y2":{"field":"d"}}}
   ]},
   {"width":15,"height":72,"view":{"fill":"#D9D9D9","stroke":null},"data":{"values":[{"s":"season_24"}]},"mark":{"type":"text","angle":90,"fontSize":13.6,"color":"#1A1A1A","dy":-5,"clip":true},"encoding":{"text":{"field":"s"},"y":{"datum":0.5,"type":"quantitative","scale":{"domain":[0,1]},"axis":{"values":[0,1],"labelOpacity":0,"labelFontSize":12,"ticks":false,"grid":false,"title":null}}}}
  ],"spacing":2,"bounds":"flush"},
  {"hconcat":[
   {"width":739,"height":72,"resolve":{"axis":{"x":"independent","y":"independent"}},"layer":[
    {"data":{"values":[{"x0":-275,"x1":-135,"y0":-636,"y1":-170}]},"mark":{"type":"rect","fill":"#BFBFBF","stroke":"#000000","strokeWidth":0.7},
     "encoding":{"x":{"field":"x0","type":"quantitative","scale":{"domain":[-725,9150],"nice":false,"zero":false},"axis":{"values":[0,2500,5000,7500],"labels":false,"ticks":false,"title":null}},"x2":{"field":"x1"},
      "y":{"field":"y0","type":"quantitative","scale":{"domain":[-1057,307],"nice":false,"zero":false},"axis":{"values":[-1000,-750,-500,-250,0,250],"title":null}},"y2":{"field":"y1"}}},
    {"data":{"name":"sb"},"mark":{"type":"area","color":"#000000"},
     "encoding":{"x":{"field":"t","type":"quantitative","axis":{"values":[1250,3750,6250,8750],"labels":false,"ticks":false,"gridWidth":0.7,"orient":"bottom","title":null}},
      "y":{"field":"ib","type":"quantitative","axis":{"values":[-875,-625,-375,-125,125],"labels":false,"ticks":false,"gridWidth":0.7,"orient":"left","title":null}},"y2":{"field":"ia"}}},
    {"data":{"name":"nt"},"mark":{"type":"rule","color":"#000000","strokeWidth":1.4},
     "encoding":{"x":{"field":"c","type":"quantitative","axis":null},"y":{"field":"ip","type":"quantitative","axis":null},"y2":{"field":"im"}}},
    {"data":{"name":"nt"},"mark":{"type":"rule","color":"#000000","strokeWidth":3.2},
     "encoding":{"x":{"field":"c","type":"quantitative","axis":null},"y":{"field":"ip","type":"quantitative","axis":null},"y2":{"field":"it"}}}
   ]},
   {"width":15,"height":72,"view":{"fill":"#D9D9D9","stroke":null},"data":{"values":[{"s":"season_168"}]},"mark":{"type":"text","angle":90,"fontSize":13.6,"color":"#1A1A1A","dy":-5,"clip":true},"encoding":{"text":{"field":"s"},"y":{"datum":0.5,"type":"quantitative","scale":{"domain":[0,1]},"axis":{"values":[0,1],"labelOpacity":0,"labelFontSize":12,"ticks":false,"grid":false,"title":null}}}}
  ],"spacing":2,"bounds":"flush"},
  {"hconcat":[
   {"width":739,"height":72,"resolve":{"axis":{"x":"independent","y":"independent"}},"layer":[
    {"data":{"values":[{"x0":-275,"x1":-135,"y0":-476,"y1":-10}]},"mark":{"type":"rect","fill":"#BFBFBF","stroke":"#000000","strokeWidth":0.7},
     "encoding":{"x":{"field":"x0","type":"quantitative","scale":{"domain":[-725,9150],"nice":false,"zero":false},"axis":{"values":[0,2500,5000,7500],"title":null}},"x2":{"field":"x1"},
      "y":{"field":"y0","type":"quantitative","scale":{"domain":[-1160,690],"nice":false,"zero":false},"axis":{"values":[-1000,-500,0,500],"title":null}},"y2":{"field":"y1"}}},
    {"data":{"name":"rb"},"mark":{"type":"area","color":"#000000"},
     "encoding":{"x":{"field":"t","type":"quantitative","axis":{"values":[1250,3750,6250,8750],"labels":false,"ticks":false,"gridWidth":0.7,"orient":"bottom","title":null}},
      "y":{"field":"ih","type":"quantitative","axis":{"values":[-750,-250,250],"labels":false,"ticks":false,"gridWidth":0.7,"orient":"left","title":null}},"y2":{"field":"il"}}},
    {"data":{"name":"rio"},"mark":{"type":"rule","color":"#000000","strokeWidth":1.6},
     "encoding":{"x":{"field":"t","type":"quantitative","axis":null},"y":{"field":"ih","type":"quantitative","axis":null},"y2":{"field":"il"}}}
   ]},
   {"width":15,"height":72,"view":{"fill":"#D9D9D9","stroke":null},"data":{"values":[{"s":"remainder"}]},"mark":{"type":"text","angle":90,"fontSize":13.6,"color":"#1A1A1A","dy":-5,"clip":true},"encoding":{"text":{"field":"s"},"y":{"datum":0.5,"type":"quantitative","scale":{"domain":[0,1]},"axis":{"values":[0,1],"labelOpacity":0,"labelFontSize":12,"ticks":false,"grid":false,"title":null}}}}
  ],"spacing":2,"bounds":"flush"}
 ]},
{"title":{"text":"STL decomposition","subtitle":"outflow = trend + season_24 + season_168 + remainder"},
 "spacing":-5,"bounds":"full",
 "vconcat":[
  {"hconcat":[
   {"width":739,"height":72,"resolve":{"axis":{"x":"independent","y":"independent"}},"layer":[
    {"data":{"values":[{"x0":-275,"x1":-135,"y0":775,"y1":1245}]},"mark":{"type":"rect","fill":"#BFBFBF","stroke":"#000000","strokeWidth":0.7},
     "encoding":{"x":{"field":"x0","type":"quantitative","scale":{"domain":[-725,9150],"nice":false,"zero":false},"axis":{"values":[0,2500,5000,7500],"labels":false,"ticks":false,"title":null}},"x2":{"field":"x1"},
      "y":{"field":"y0","type":"quantitative","scale":{"domain":[-101,2107],"nice":false,"zero":false},"axis":{"values":[0,500,1000,1500,2000],"title":null}},"y2":{"field":"y1"}}},
    {"data":{"name":"blk"},"mark":{"type":"rect","fill":"#000000","stroke":"#000000","strokeWidth":0.3},
     "encoding":{"x":{"field":"a","type":"quantitative","axis":{"values":[1250,3750,6250,8750],"labels":false,"ticks":false,"gridWidth":0.7,"orient":"bottom","title":null}},"x2":{"field":"b"},
      "y":{"field":"lo","type":"quantitative","axis":{"values":[250,750,1250,1750],"labels":false,"ticks":false,"gridWidth":0.7,"orient":"left","title":null}},"y2":{"field":"ih"}}},
    {"data":{"name":"nt"},"mark":{"type":"rect","fill":"#000000","stroke":"#000000","strokeWidth":0.3},
     "encoding":{"x":{"field":"p","type":"quantitative","axis":null},"x2":{"field":"q"},"y":{"field":"lo","type":"quantitative","axis":null},"y2":{"field":"iw"}}}
   ]},
   {"width":15,"height":72,"view":{"fill":"#D9D9D9","stroke":null},"data":{"values":[{"s":"outflow"}]},"mark":{"type":"text","angle":90,"fontSize":13.6,"color":"#1A1A1A","dy":-5,"clip":true},"encoding":{"text":{"field":"s"},"y":{"datum":0.5,"type":"quantitative","scale":{"domain":[0,1]},"axis":{"values":[0,1],"labelOpacity":0,"labelFontSize":12,"ticks":false,"grid":false,"title":null}}}}
  ],"spacing":2,"bounds":"flush"},
  {"hconcat":[
   {"width":739,"height":72,"resolve":{"axis":{"x":"independent","y":"independent"}},"layer":[
    {"data":{"values":[{"x0":-275,"x1":-135,"y0":605,"y1":1075}]},"mark":{"type":"rect","fill":"#BFBFBF","stroke":"#000000","strokeWidth":0.7},
     "encoding":{"x":{"field":"x0","type":"quantitative","scale":{"domain":[-725,9150],"nice":false,"zero":false},"axis":{"values":[0,2500,5000,7500],"labels":false,"ticks":false,"title":null}},"x2":{"field":"x1"},
      "y":{"field":"y0","type":"quantitative","scale":{"domain":[585,1095],"nice":false,"zero":false},"axis":{"values":[600,700,800,900,1000],"title":null}},"y2":{"field":"y1"}}},
    {"data":{"name":"tri"},"mark":{"type":"line","color":"#000000","strokeWidth":1.4,"interpolate":"monotone"},
     "encoding":{"x":{"field":"t","type":"quantitative","axis":{"values":[1250,3750,6250,8750],"labels":false,"ticks":false,"gridWidth":0.7,"orient":"bottom","title":null}},
      "y":{"field":"o","type":"quantitative","axis":{"values":[650,750,850,950,1050],"labels":false,"ticks":false,"gridWidth":0.7,"orient":"left","title":null}}}}
   ]},
   {"width":15,"height":72,"view":{"fill":"#D9D9D9","stroke":null},"data":{"values":[{"s":"trend"}]},"mark":{"type":"text","angle":90,"fontSize":13.6,"color":"#1A1A1A","dy":-5,"clip":true},"encoding":{"text":{"field":"s"},"y":{"datum":0.5,"type":"quantitative","scale":{"domain":[0,1]},"axis":{"values":[0,1],"labelOpacity":0,"labelFontSize":12,"ticks":false,"grid":false,"title":null}}}}
  ],"spacing":2,"bounds":"flush"},
  {"hconcat":[
   {"width":739,"height":72,"resolve":{"axis":{"x":"independent","y":"independent"}},"layer":[
    {"data":{"values":[{"x0":-275,"x1":-135,"y0":-288,"y1":178}]},"mark":{"type":"rect","fill":"#BFBFBF","stroke":"#000000","strokeWidth":0.7},
     "encoding":{"x":{"field":"x0","type":"quantitative","scale":{"domain":[-725,9150],"nice":false,"zero":false},"axis":{"values":[0,2500,5000,7500],"labels":false,"ticks":false,"title":null}},"x2":{"field":"x1"},
      "y":{"field":"y0","type":"quantitative","scale":{"domain":[-1131,1061],"nice":false,"zero":false},"axis":{"values":[-1000,-500,0,500,1000],"title":null}},"y2":{"field":"y1"}}},
    {"data":{"name":"s24"},"mark":{"type":"area","color":"#000000"},
     "encoding":{"x":{"field":"t","type":"quantitative","axis":{"values":[1250,3750,6250,8750],"labels":false,"ticks":false,"gridWidth":0.7,"orient":"bottom","title":null}},
      "y":{"field":"u","type":"quantitative","axis":{"values":[-750,-250,250,750],"labels":false,"ticks":false,"gridWidth":0.7,"orient":"left","title":null}},"y2":{"field":"d"}}}
   ]},
   {"width":15,"height":72,"view":{"fill":"#D9D9D9","stroke":null},"data":{"values":[{"s":"season_24"}]},"mark":{"type":"text","angle":90,"fontSize":13.6,"color":"#1A1A1A","dy":-5,"clip":true},"encoding":{"text":{"field":"s"},"y":{"datum":0.5,"type":"quantitative","scale":{"domain":[0,1]},"axis":{"values":[0,1],"labelOpacity":0,"labelFontSize":12,"ticks":false,"grid":false,"title":null}}}}
  ],"spacing":2,"bounds":"flush"},
  {"hconcat":[
   {"width":739,"height":72,"resolve":{"axis":{"x":"independent","y":"independent"}},"layer":[
    {"data":{"values":[{"x0":-275,"x1":-135,"y0":-725,"y1":-255}]},"mark":{"type":"rect","fill":"#BFBFBF","stroke":"#000000","strokeWidth":0.7},
     "encoding":{"x":{"field":"x0","type":"quantitative","scale":{"domain":[-725,9150],"nice":false,"zero":false},"axis":{"values":[0,2500,5000,7500],"labels":false,"ticks":false,"title":null}},"x2":{"field":"x1"},
      "y":{"field":"y0","type":"quantitative","scale":{"domain":[-1250,321],"nice":false,"zero":false},"axis":{"values":[-1200,-800,-400,0],"title":null}},"y2":{"field":"y1"}}},
    {"data":{"name":"sb"},"mark":{"type":"area","color":"#000000"},
     "encoding":{"x":{"field":"t","type":"quantitative","axis":{"values":[1250,3750,6250,8750],"labels":false,"ticks":false,"gridWidth":0.7,"orient":"bottom","title":null}},
      "y":{"field":"ob","type":"quantitative","axis":{"values":[-1000,-600,-200,200],"labels":false,"ticks":false,"gridWidth":0.7,"orient":"left","title":null}},"y2":{"field":"oa"}}},
    {"data":{"name":"nt"},"mark":{"type":"rule","color":"#000000","strokeWidth":1.4},
     "encoding":{"x":{"field":"c","type":"quantitative","axis":null},"y":{"field":"ip","type":"quantitative","axis":null},"y2":{"field":"om"}}},
    {"data":{"name":"nt"},"mark":{"type":"rule","color":"#000000","strokeWidth":3.2},
     "encoding":{"x":{"field":"c","type":"quantitative","axis":null},"y":{"field":"ip","type":"quantitative","axis":null},"y2":{"field":"ot"}}}
   ]},
   {"width":15,"height":72,"view":{"fill":"#D9D9D9","stroke":null},"data":{"values":[{"s":"season_168"}]},"mark":{"type":"text","angle":90,"fontSize":13.6,"color":"#1A1A1A","dy":-5,"clip":true},"encoding":{"text":{"field":"s"},"y":{"datum":0.5,"type":"quantitative","scale":{"domain":[0,1]},"axis":{"values":[0,1],"labelOpacity":0,"labelFontSize":12,"ticks":false,"grid":false,"title":null}}}}
  ],"spacing":2,"bounds":"flush"},
  {"hconcat":[
   {"width":739,"height":72,"resolve":{"axis":{"x":"independent","y":"independent"}},"layer":[
    {"data":{"values":[{"x0":-275,"x1":-135,"y0":-500,"y1":-30}]},"mark":{"type":"rect","fill":"#BFBFBF","stroke":"#000000","strokeWidth":0.7},
     "encoding":{"x":{"field":"x0","type":"quantitative","scale":{"domain":[-725,9150],"nice":false,"zero":false},"axis":{"values":[0,2500,5000,7500],"title":null}},"x2":{"field":"x1"},
      "y":{"field":"y0","type":"quantitative","scale":{"domain":[-1290,820],"nice":false,"zero":false},"axis":{"values":[-1000,-500,0,500],"title":null}},"y2":{"field":"y1"}}},
    {"data":{"name":"rb"},"mark":{"type":"area","color":"#000000"},
     "encoding":{"x":{"field":"t","type":"quantitative","axis":{"values":[1250,3750,6250,8750],"labels":false,"ticks":false,"gridWidth":0.7,"orient":"bottom","title":null}},
      "y":{"field":"ih","type":"quantitative","axis":{"values":[-750,-250,250,750],"labels":false,"ticks":false,"gridWidth":0.7,"orient":"left","title":null}},"y2":{"field":"il"}}},
    {"data":{"name":"rio"},"mark":{"type":"rule","color":"#000000","strokeWidth":1.6},
     "encoding":{"x":{"field":"t","type":"quantitative","axis":null},"y":{"field":"oh","type":"quantitative","axis":null},"y2":{"field":"ol"}}}
   ]},
   {"width":15,"height":72,"view":{"fill":"#D9D9D9","stroke":null},"data":{"values":[{"s":"remainder"}]},"mark":{"type":"text","angle":90,"fontSize":13.6,"color":"#1A1A1A","dy":-5,"clip":true},"encoding":{"text":{"field":"s"},"y":{"datum":0.5,"type":"quantitative","scale":{"domain":[0,1]},"axis":{"values":[0,1],"labelOpacity":0,"labelFontSize":12,"ticks":false,"grid":false,"title":null}}}}
  ],"spacing":2,"bounds":"flush"}
 ]},
{"title":{"text":"STL decomposition","subtitle":"internal = trend + season_24 + season_168 + remainder"},
 "spacing":-5,"bounds":"full",
 "vconcat":[
  {"hconcat":[
   {"width":739,"height":72,"resolve":{"axis":{"x":"independent","y":"independent"}},"layer":[
    {"data":{"values":[{"x0":-275,"x1":-135,"y0":1740,"y1":2490}]},"mark":{"type":"rect","fill":"#BFBFBF","stroke":"#000000","strokeWidth":0.7},
     "encoding":{"x":{"field":"x0","type":"quantitative","scale":{"domain":[-657,9187],"nice":false,"zero":false},"axis":{"values":[0,2500,5000,7500],"labels":false,"ticks":false,"title":null}},"x2":{"field":"x1"},
      "y":{"field":"y0","type":"quantitative","scale":{"domain":[-100,4230],"nice":false,"zero":false},"axis":{"values":[0,1000,2000,3000,4000],"title":null}},"y2":{"field":"y1"}}},
    {"data":{"name":"blk"},"mark":{"type":"rect","fill":"#000000","stroke":"#000000","strokeWidth":0.3},
     "encoding":{"x":{"field":"a","type":"quantitative","axis":{"values":[1250,3750,6250,8750],"labels":false,"ticks":false,"gridWidth":0.7,"orient":"bottom","title":null}},"x2":{"field":"b"},
      "y":{"field":"xl","type":"quantitative","axis":{"values":[500,1500,2500,3500],"labels":false,"ticks":false,"gridWidth":0.7,"orient":"left","title":null}},"y2":{"field":"xh"}}},
    {"data":{"name":"nt"},"mark":{"type":"rect","fill":"#000000","stroke":"#000000","strokeWidth":0.3},
     "encoding":{"x":{"field":"p","type":"quantitative","axis":null},"x2":{"field":"q"},"y":{"field":"xl","type":"quantitative","axis":null},"y2":{"field":"xw"}}}
   ]},
   {"width":15,"height":72,"view":{"fill":"#D9D9D9","stroke":null},"data":{"values":[{"s":"internal"}]},"mark":{"type":"text","angle":90,"fontSize":13.6,"color":"#1A1A1A","dy":-5,"clip":true},"encoding":{"text":{"field":"s"},"y":{"datum":0.5,"type":"quantitative","scale":{"domain":[0,1]},"axis":{"values":[0,1],"labelOpacity":0,"labelFontSize":12,"ticks":false,"grid":false,"title":null}}}}
  ],"spacing":2,"bounds":"flush"},
  {"hconcat":[
   {"width":739,"height":72,"resolve":{"axis":{"x":"independent","y":"independent"}},"layer":[
    {"data":{"values":[{"x0":-275,"x1":-135,"y0":1495,"y1":2240}]},"mark":{"type":"rect","fill":"#BFBFBF","stroke":"#000000","strokeWidth":0.7},
     "encoding":{"x":{"field":"x0","type":"quantitative","scale":{"domain":[-657,9187],"nice":false,"zero":false},"axis":{"values":[0,2500,5000,7500],"labels":false,"ticks":false,"title":null}},"x2":{"field":"x1"},
      "y":{"field":"y0","type":"quantitative","scale":{"domain":[1441,2266],"nice":false,"zero":false},"axis":{"values":[1600,1800,2000,2200],"title":null}},"y2":{"field":"y1"}}},
    {"data":{"name":"trx"},"mark":{"type":"line","color":"#000000","strokeWidth":1.4,"interpolate":"monotone"},
     "encoding":{"x":{"field":"t","type":"quantitative","axis":{"values":[1250,3750,6250,8750],"labels":false,"ticks":false,"gridWidth":0.7,"orient":"bottom","title":null}},
      "y":{"field":"v","type":"quantitative","axis":{"values":[1500,1700,1900,2100],"labels":false,"ticks":false,"gridWidth":0.7,"orient":"left","title":null}}}}
   ]},
   {"width":15,"height":72,"view":{"fill":"#D9D9D9","stroke":null},"data":{"values":[{"s":"trend"}]},"mark":{"type":"text","angle":90,"fontSize":13.6,"color":"#1A1A1A","dy":-5,"clip":true},"encoding":{"text":{"field":"s"},"y":{"datum":0.5,"type":"quantitative","scale":{"domain":[0,1]},"axis":{"values":[0,1],"labelOpacity":0,"labelFontSize":12,"ticks":false,"grid":false,"title":null}}}}
  ],"spacing":2,"bounds":"flush"},
  {"hconcat":[
   {"width":739,"height":72,"resolve":{"axis":{"x":"independent","y":"independent"}},"layer":[
    {"data":{"values":[{"x0":-275,"x1":-135,"y0":-345,"y1":402}]},"mark":{"type":"rect","fill":"#BFBFBF","stroke":"#000000","strokeWidth":0.7},
     "encoding":{"x":{"field":"x0","type":"quantitative","scale":{"domain":[-657,9187],"nice":false,"zero":false},"axis":{"values":[0,2500,5000,7500],"labels":false,"ticks":false,"title":null}},"x2":{"field":"x1"},
      "y":{"field":"y0","type":"quantitative","scale":{"domain":[-2185,2246],"nice":false,"zero":false},"axis":{"values":[-2000,-1000,0,1000,2000],"title":null}},"y2":{"field":"y1"}}},
    {"data":{"name":"s24x"},"mark":{"type":"area","color":"#000000"},
     "encoding":{"x":{"field":"t","type":"quantitative","axis":{"values":[1250,3750,6250,8750],"labels":false,"ticks":false,"gridWidth":0.7,"orient":"bottom","title":null}},
      "y":{"field":"u","type":"quantitative","axis":{"values":[-1500,-500,500,1500],"labels":false,"ticks":false,"gridWidth":0.7,"orient":"left","title":null}},"y2":{"field":"d"}}}
   ]},
   {"width":15,"height":72,"view":{"fill":"#D9D9D9","stroke":null},"data":{"values":[{"s":"season_24"}]},"mark":{"type":"text","angle":90,"fontSize":13.6,"color":"#1A1A1A","dy":-5,"clip":true},"encoding":{"text":{"field":"s"},"y":{"datum":0.5,"type":"quantitative","scale":{"domain":[0,1]},"axis":{"values":[0,1],"labelOpacity":0,"labelFontSize":12,"ticks":false,"grid":false,"title":null}}}}
  ],"spacing":2,"bounds":"flush"},
  {"hconcat":[
   {"width":739,"height":72,"resolve":{"axis":{"x":"independent","y":"independent"}},"layer":[
    {"data":{"values":[{"x0":-275,"x1":-135,"y0":-373,"y1":373}]},"mark":{"type":"rect","fill":"#BFBFBF","stroke":"#000000","strokeWidth":0.7},
     "encoding":{"x":{"field":"x0","type":"quantitative","scale":{"domain":[-657,9187],"nice":false,"zero":false},"axis":{"values":[0,2500,5000,7500],"labels":false,"ticks":false,"title":null}},"x2":{"field":"x1"},
      "y":{"field":"y0","type":"quantitative","scale":{"domain":[-1640,1760],"nice":false,"zero":false},"axis":{"values":[-1000,0,1000],"title":null}},"y2":{"field":"y1"}}},
    {"data":{"name":"sb"},"mark":{"type":"area","color":"#000000"},
     "encoding":{"x":{"field":"t","type":"quantitative","axis":{"values":[1250,3750,6250,8750],"labels":false,"ticks":false,"gridWidth":0.7,"orient":"bottom","title":null}},
      "y":{"field":"xb","type":"quantitative","axis":{"values":[-1500,-500,500,1500],"labels":false,"ticks":false,"gridWidth":0.7,"orient":"left","title":null}},"y2":{"field":"xa"}}},
    {"data":{"name":"nt"},"mark":{"type":"rule","color":"#000000","strokeWidth":1.4},
     "encoding":{"x":{"field":"c","type":"quantitative","axis":null},"y":{"field":"xp","type":"quantitative","axis":null},"y2":{"field":"xm"}}},
    {"data":{"name":"nt"},"mark":{"type":"rule","color":"#000000","strokeWidth":3.5},
     "encoding":{"x":{"field":"c","type":"quantitative","axis":null},"y":{"field":"ip","type":"quantitative","axis":null},"y2":{"field":"xt"}}}
   ]},
   {"width":15,"height":72,"view":{"fill":"#D9D9D9","stroke":null},"data":{"values":[{"s":"season_168"}]},"mark":{"type":"text","angle":90,"fontSize":13.6,"color":"#1A1A1A","dy":-5,"clip":true},"encoding":{"text":{"field":"s"},"y":{"datum":0.5,"type":"quantitative","scale":{"domain":[0,1]},"axis":{"values":[0,1],"labelOpacity":0,"labelFontSize":12,"ticks":false,"grid":false,"title":null}}}}
  ],"spacing":2,"bounds":"flush"},
  {"hconcat":[
   {"width":739,"height":72,"resolve":{"axis":{"x":"independent","y":"independent"}},"layer":[
    {"data":{"values":[{"x0":-275,"x1":-135,"y0":-763,"y1":-16}]},"mark":{"type":"rect","fill":"#BFBFBF","stroke":"#000000","strokeWidth":0.7},
     "encoding":{"x":{"field":"x0","type":"quantitative","scale":{"domain":[-657,9187],"nice":false,"zero":false},"axis":{"values":[0,2500,5000,7500],"title":null}},"x2":{"field":"x1"},
      "y":{"field":"y0","type":"quantitative","scale":{"domain":[-3300,2950],"nice":false,"zero":false},"axis":{"values":[-3000,-2000,-1000,0,1000,2000],"title":null}},"y2":{"field":"y1"}}},
    {"data":{"name":"rb"},"mark":{"type":"area","color":"#000000"},
     "encoding":{"x":{"field":"t","type":"quantitative","axis":{"values":[1250,3750,6250,8750],"labels":false,"ticks":false,"gridWidth":0.7,"orient":"bottom","title":null}},
      "y":{"field":"xh","type":"quantitative","axis":{"values":[-2500,-1500,-500,500,1500,2500],"labels":false,"ticks":false,"gridWidth":0.7,"orient":"left","title":null}},"y2":{"field":"xl"}}},
    {"data":{"name":"rx"},"mark":{"type":"rule","color":"#000000","strokeWidth":1.8},
     "encoding":{"x":{"field":"t","type":"quantitative","axis":null},"y":{"field":"hi","type":"quantitative","axis":null},"y2":{"field":"lo"}}}
   ]},
   {"width":15,"height":72,"view":{"fill":"#D9D9D9","stroke":null},"data":{"values":[{"s":"remainder"}]},"mark":{"type":"text","angle":90,"fontSize":13.6,"color":"#1A1A1A","dy":-5,"clip":true},"encoding":{"text":{"field":"s"},"y":{"datum":0.5,"type":"quantitative","scale":{"domain":[0,1]},"axis":{"values":[0,1],"labelOpacity":0,"labelFontSize":12,"ticks":false,"grid":false,"title":null}}}}
  ],"spacing":2,"bounds":"flush"}
 ]}
],
"spacing":39,
"bounds":"full"
}
